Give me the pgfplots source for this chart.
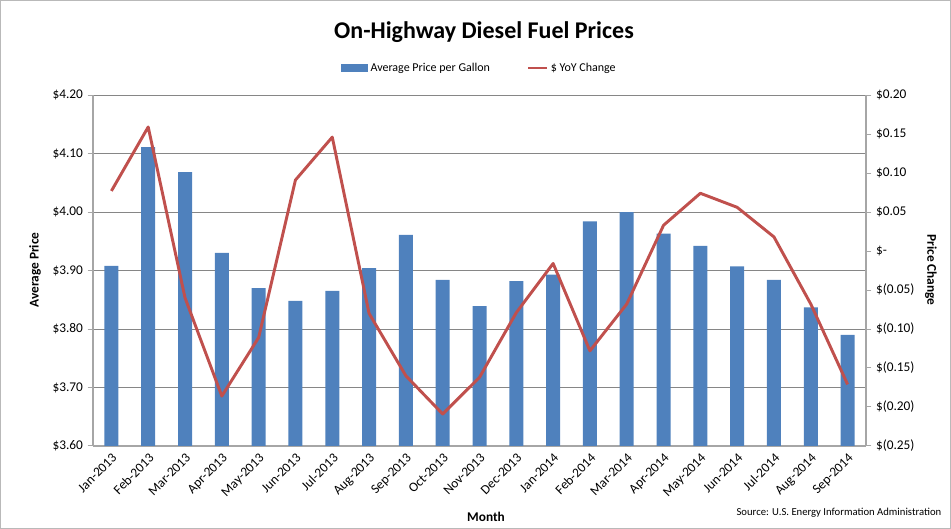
\documentclass[border=0pt]{standalone}
\usepackage{pgfplots}
\pgfplotsset{compat=1.18}
\usepackage{fontspec}
\setmainfont{Carlito}
\definecolor{barblue}{HTML}{4F81BD}
\definecolor{linered}{HTML}{C0504D}
\definecolor{gridgray}{HTML}{868686}
\definecolor{axgray}{HTML}{A6A6A6}

\pgfplotsset{
  common/.style={
    at={(69.75pt,62.25pt)}, anchor=south west,
    scale only axis, width=579.75pt, height=263.25pt,
    xmin=-0.5, xmax=20.5,
    axis line style={axgray, line width=0.9pt, -},
    tick style={axgray, line width=0.75pt},
    tick align=outside, major tick length=4pt,
    tick label style={font=\fontsize{10}{12}\selectfont},
  }
}

\begin{document}
\begin{tikzpicture}
\begin{scope}[x=0.75pt,y=0.75pt]
\useasboundingbox (0,0) rectangle (951,529);
\draw[gray!55, line width=0.75pt] (0.5,0.5) rectangle (950.5,528.5);
\end{scope}

% bars, left axis
\begin{axis}[common,
  ymin=3.6, ymax=4.2,
  axis y line*=left, axis x line*=bottom,
  ytick={3.6,3.7,3.8,3.9,4.0,4.1,4.2},
  yticklabels={\$3.60,\$3.70,\$3.80,\$3.90,\$4.00,\$4.10,\$4.20},
  ymajorgrids, grid style={gridgray, line width=0.75pt},
  xtick={0,...,20},
  xticklabels={Jan-2013,Feb-2013,Mar-2013,Apr-2013,May-2013,Jun-2013,Jul-2013,Aug-2013,Sep-2013,Oct-2013,Nov-2013,Dec-2013,Jan-2014,Feb-2014,Mar-2014,Apr-2014,May-2014,Jun-2014,Jul-2014,Aug-2014,Sep-2014},
  x tick style={draw=none},
  minor xtick={-0.5,0.5,...,20.5},
  minor x tick style={axgray, line width=0.75pt},
  minor tick length=4pt,
  xticklabel style={rotate=45, anchor=north east, inner sep=0.5pt},
  ]
\addplot[ybar, bar width=10.5pt, fill=barblue, draw=none] coordinates {
  (0,3.908) (1,4.111) (2,4.068) (3,3.930) (4,3.870) (5,3.848) (6,3.865)
  (7,3.904) (8,3.961) (9,3.884) (10,3.839) (11,3.882) (12,3.893) (13,3.984)
  (14,4.000) (15,3.963) (16,3.942) (17,3.907) (18,3.884) (19,3.837) (20,3.790)
};
\end{axis}

% YoY change, right axis
\begin{axis}[common,
  ymin=-0.25, ymax=0.2,
  axis y line*=right, axis x line=none,
  ytick={-0.25,-0.2,-0.15,-0.1,-0.05,0,0.05,0.1,0.15,0.2},
  yticklabels={\$(0.25),\$(0.20),\$(0.15),\$(0.10),\$(0.05),\$-,\$0.05,\$0.10,\$0.15,\$0.20},
  legend columns=2,
  legend style={draw=none, fill=none, at={(0.5,1.077)}, anchor=center,
    font=\fontsize{9}{11}\selectfont,
    /tikz/every even column/.append style={column sep=26pt}},
  ]
\addlegendimage{legend image code/.code={\fill[barblue] (0pt,-2.6pt) rectangle (20pt,2.6pt);}}
\addlegendentry{Average Price per Gallon}
\addplot[linered, line width=2.2pt, line join=round,
  legend image code/.code={\draw[linered, line width=1.6pt] (0pt,0pt) -- (14pt,0pt);}]
  coordinates {
  (0,0.077) (1,0.159) (2,-0.060) (3,-0.186) (4,-0.111) (5,0.091) (6,0.146)
  (7,-0.080) (8,-0.160) (9,-0.209) (10,-0.162) (11,-0.079) (12,-0.016) (13,-0.128)
  (14,-0.068) (15,0.033) (16,0.074) (17,0.056) (18,0.018) (19,-0.068) (20,-0.171)
};
\addlegendentry{\$ YoY Change}
\end{axis}

\begin{scope}[x=0.75pt,y=0.75pt]
\node[font=\fontsize{18}{21}\selectfont\bfseries] at (484,497) {On-Highway Diesel Fuel Prices};
\node[rotate=90, font=\fontsize{10}{12}\selectfont\bfseries] at (35,259) {Average Price};
\node[rotate=-90, font=\fontsize{10}{12}\selectfont\bfseries] at (931,259) {Price Change};
\node[font=\fontsize{10}{12}\selectfont\bfseries] at (486,12) {Month};
\node[anchor=east, font=\fontsize{8}{10}\selectfont] at (946,16) {Source: U.S. Energy Information Administration};
\end{scope}
\end{tikzpicture}
\end{document}
